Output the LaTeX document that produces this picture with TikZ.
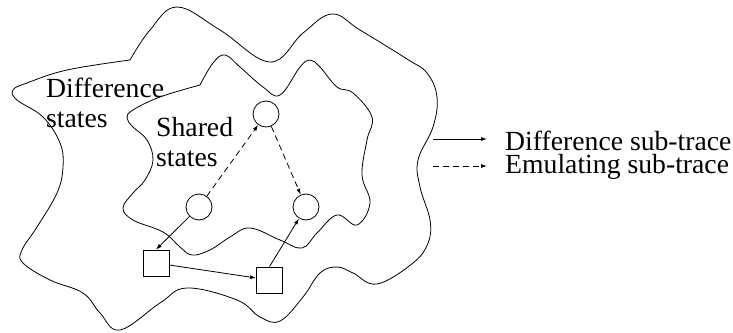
\documentclass[tikz,border=0pt]{standalone}
\usepackage{fontspec}
\setmainfont{Liberation Serif}
\usepackage{tikz}
\usetikzlibrary{arrows.meta}
\tikzstyle{Centering}=[{baseline={([yshift=-0.5ex]current
    bounding box.center)}}]
\tikzstyle{State}=[circle,draw,line width=0.8pt,minimum size=26pt,
inner sep=0pt]
\tikzstyle{Box}=[rectangle,draw,line width=0.8pt,minimum size=26pt,
inner sep=0pt]
\tikzstyle{Blob}=[draw,line width=0.8pt,line join=round]
\tikzstyle{Diff}=[draw,line width=0.8pt,-{Latex[length=6pt,width=4pt]}]
\tikzstyle{Emul}=[Diff,dash pattern=on 6pt off 4pt]
\tikzstyle{Label}=[font=\fontsize{27.7}{30}\selectfont,inner sep=0pt,
align=left]
\tikzstyle{Legend}=[font=\fontsize{27.7}{23}\selectfont,inner sep=0pt,
align=left]

\begin{document}
\begin{tikzpicture}[x=1pt,y=-1pt]
        \useasboundingbox (0,0) rectangle (733,332);
        % difference states
        \draw[Blob] plot[smooth,tension=0.65] coordinates {
            (130,60) (150,30) (177,7) (220,30) (270,62) (303,33) (332,14)
            (360,30) (407,59) (427,73) (437,97) (433,127) (418,160)
            (420,187) (430,220) (428,243) (413,263) (377,284) (353,273)
            (337,267) (320,273) (303,297) (280,321) (260,317) (237,300)
            (187,288) (160,303) (120,330) (100,313) (83,293) (50,280)
            (23,263) (22,250) (37,227) (57,193) (63,167) (60,143) (43,117)
            (17,100) (13,90) (27,83) (67,70) (130,60)};
        % shared states
        \draw[Blob] plot[smooth,tension=0.65] coordinates {
            (200,85) (160,97) (133,110) (127,118) (133,127) (147,140)
            (153,160) (145,180) (133,193) (123,208) (133,220) (163,232)
            (180,247) (192,255) (210,250) (230,237) (250,228) (280,240)
            (302,248) (317,233) (337,215) (357,225) (370,203) (362,175)
            (367,140) (372,117) (353,93) (337,87) (320,67) (310,60) (300,67)
            (280,95) (263,87) (240,67) (225,55) (213,63) (200,85)};
        \node[Label,anchor=base west](dl)at(46,127){Difference\\states};
        \node[Label,anchor=base west](sl)at(156,166){Shared\\states};
        \node[State](c1)at(266,114){};
        \node[State](c2)at(199,207){};
        \node[State](c3)at(306,207){};
        \node[Box](s1)at(156,263){};
        \node[Box](s2)at(269.5,280){};
        \draw[Emul](c2)--(c1);
        \draw[Emul](c1)--(c3);
        \draw[Diff](c2)--(s1.north);
        \draw[Diff](s1)--(s2);
        \draw[Diff](s2.north)--(c3);
        % legend
        \node[Legend,anchor=base west](lg)at(505,173)
            {Difference sub-trace\\Emulating sub-trace};
        \coordinate(a1)at(433,139);
        \coordinate(b1)at(487,139);
        \coordinate(a2)at(433,166);
        \coordinate(b2)at(487,166);
        \draw[Diff](a1)--(b1);
        \draw[Emul](a2)--(b2);
    \end{tikzpicture}
\end{document}
